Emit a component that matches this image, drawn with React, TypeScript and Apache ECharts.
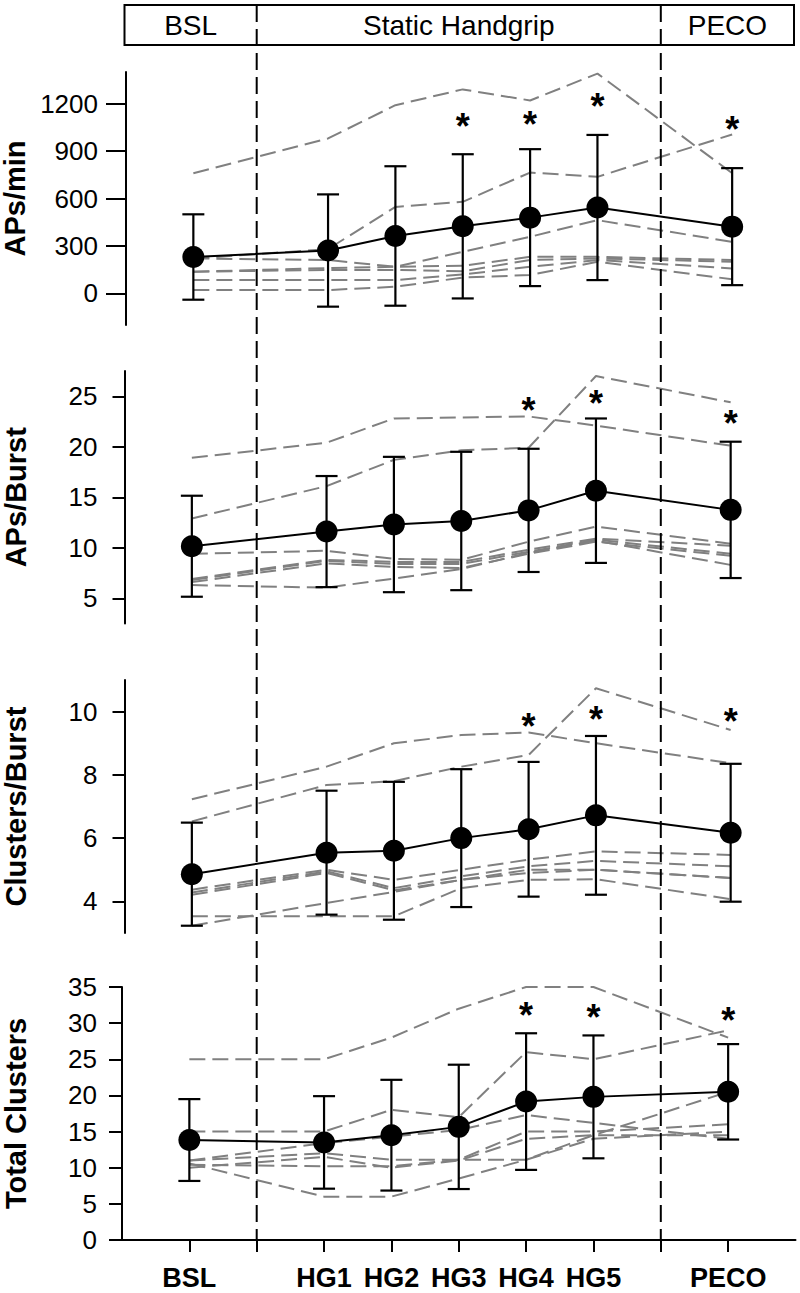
import React, { useEffect, useRef } from 'react';
import * as echarts from 'echarts';

// ---------- data ----------
const timeLabels = ['BSL', 'HG1', 'HG2', 'HG3', 'HG4', 'HG5', 'PECO'];
const timeX = [0, 2, 3, 4, 5, 6, 8];
const xTickValues = [0, 1, 2, 3, 4, 5, 6, 7, 8];
const phaseLabels = ['BSL', 'Static Handgrip', 'PECO'];
const phaseDividers = [1, 7];

// APs/min
const apsMinMean = [230, 271, 363, 424, 479, 543, 422];
const apsMinSD = [270, 355, 441, 456, 433, 459, 370];
const apsMinStars = [null, null, null, 1108, 1120, 1234, 1084];
const apsMinS1 = [760, 980, 1190, 1290, 1220, 1390, 760];
const apsMinS2 = [220, 280, 547, 579, 764, 737, 1005];
const apsMinS3 = [137, 160, 168, 263, 358, 463, 326];
const apsMinS4 = [221, 211, 168, 175, 231, 231, 211];
const apsMinS5 = [137, 148, 148, 140, 211, 221, 200];
const apsMinS6 = [84, 84, 84, 120, 168, 211, 158];
const apsMinS7 = [21, 21, 42, 100, 116, 200, 89];
const apsMinTicks = [0, 300, 600, 900, 1200];

// APs/Burst
const apsBurstMean = [10.15, 11.6, 12.3, 12.65, 13.7, 15.65, 13.75];
const apsBurstSD = [5.0, 5.5, 6.7, 6.85, 6.1, 7.15, 6.75];
const apsBurstStars = [null, null, null, null, 24.4, 25.1, 23.1];
const apsBurstS1 = [18.9, 20.4, 22.8, 22.9, 23.0, 22.1, 20.1];
const apsBurstS2 = [12.9, 16.1, 18.7, 19.65, 19.9, 27.0, 24.4];
const apsBurstS3 = [9.4, 9.7, 8.9, 8.8, 10.6, 12.1, 10.4];
const apsBurstS4 = [6.9, 8.8, 8.6, 8.6, 9.8, 10.9, 10.2];
const apsBurstS5 = [6.8, 8.7, 8.4, 8.4, 9.6, 10.8, 9.4];
const apsBurstS6 = [6.6, 8.45, 8.1, 8.0, 9.4, 10.6, 9.2];
const apsBurstS7 = [6.3, 6.05, 6.95, 7.9, 9.5, 10.7, 8.3];
const apsBurstTicks = [5, 10, 15, 20, 25];

// Clusters/Burst
const clBurstMean = [4.86, 5.54, 5.6, 6.0, 6.28, 6.72, 6.17];
const clBurstSD = [1.63, 1.96, 2.18, 2.18, 2.13, 2.51, 2.18];
const clBurstStars = [null, null, null, null, 9.79, 10.0, 9.95];
const clBurstS1 = [7.23, 8.26, 9.0, 9.26, 9.34, 9.0, 8.37];
const clBurstS2 = [6.53, 7.68, 7.8, 8.26, 8.63, 10.74, 9.42];
const clBurstS3 = [4.37, 5.0, 4.68, 5.0, 5.32, 5.58, 5.47];
const clBurstS4 = [4.28, 4.95, 4.42, 4.79, 5.11, 5.28, 5.11];
const clBurstS5 = [4.21, 4.9, 4.35, 4.68, 5.0, 5.0, 4.74];
const clBurstS6 = [3.53, 3.53, 3.53, 4.42, 4.68, 4.7, 4.07];
const clBurstS7 = [3.23, 3.95, 4.3, 4.68, 4.9, 5.0, 4.74];
const clBurstTicks = [4, 6, 8, 10];

// Total Clusters
const totClMean = [13.83, 13.5, 14.5, 15.65, 19.15, 19.8, 20.5];
const totClSD = [5.66, 6.4, 7.66, 8.6, 9.45, 8.5, 6.6];
const totClStars = [null, null, null, null, 32.1, 31.9, 31.5];
const totClS1 = [25, 25, 28, 32, 35, 35, 28];
const totClS2 = [15, 15, 18, 17, 26, 25, 29];
const totClS3 = [11.0, 13.4, 14.3, 15.2, 17.3, 16.2, 14.0];
const totClS4 = [11.0, 12.0, 11.1, 11.1, 15.0, 15.0, 16.0];
const totClS5 = [10.4, 10.2, 10.2, 11.1, 11.1, 14.5, 20.5];
const totClS6 = [10.6, 6.0, 6.0, 8.5, 11.1, 14.0, 15.0];
const totClS7 = [10.0, 11.5, 10.0, 11.0, 14.0, 14.5, 14.5];
const totClTicks = [0, 5, 10, 15, 20, 25, 30, 35];

// ---------- layout / styles ----------
const FONT = 'Arial, "Liberation Sans", Helvetica, sans-serif';
const panels = [
  { name: 'APs/min', mean: apsMinMean, sd: apsMinSD, stars: apsMinStars,
    subjects: [apsMinS1, apsMinS2, apsMinS3, apsMinS4, apsMinS5, apsMinS6, apsMinS7],
    min: -200, max: 1400, ticks: apsMinTicks,
    left: 126, top: 72, height: 253, tickLen: 20, labelMargin: 28, nameGap: 96 },
  { name: 'APs/Burst', mean: apsBurstMean, sd: apsBurstSD, stars: apsBurstStars,
    subjects: [apsBurstS1, apsBurstS2, apsBurstS3, apsBurstS4, apsBurstS5, apsBurstS6, apsBurstS7],
    min: 2.5, max: 27.5, ticks: apsBurstTicks,
    left: 124.5, top: 371, height: 252.5, tickLen: 12, labelMargin: 27, nameGap: 94.5 },
  { name: 'Clusters/Burst', mean: clBurstMean, sd: clBurstSD, stars: clBurstStars,
    subjects: [clBurstS1, clBurstS2, clBurstS3, clBurstS4, clBurstS5, clBurstS6, clBurstS7],
    min: 3, max: 11, ticks: clBurstTicks,
    left: 124.5, top: 680, height: 253, tickLen: 12, labelMargin: 27, nameGap: 94.5 },
  { name: 'Total Clusters', mean: totClMean, sd: totClSD, stars: totClStars,
    subjects: [totClS1, totClS2, totClS3, totClS4, totClS5, totClS6, totClS7],
    min: 0, max: 35, ticks: totClTicks,
    left: 122, top: 987, height: 253, tickLen: 13, labelMargin: 25, nameGap: 92 },
];
const GRID_WIDTH = 673.5;

function buildOption() {
  const grid: any[] = [];
  const xAxis: any[] = [];
  const yAxis: any[] = [];
  const series: any[] = [];
  panels.forEach((p, gi) => {
    const isBottom = gi === panels.length - 1;
    grid.push({ left: p.left, top: p.top, width: GRID_WIDTH, height: p.height, containLabel: false, outerBoundsMode: 'none' });
    xAxis.push({
      type: 'value', gridIndex: gi, min: -1, max: 9, show: isBottom,
      splitLine: { show: false },
      axisLine: { show: isBottom, onZero: false, lineStyle: { color: '#000', width: 2 } },
      axisTick: { show: isBottom, customValues: xTickValues, length: 12, lineStyle: { color: '#000', width: 2 } },
      axisLabel: {
        show: isBottom, customValues: timeX, margin: 24,
        formatter: (v: number) => { const i = timeX.indexOf(v); return i >= 0 ? timeLabels[i] : ''; },
        color: '#000', fontFamily: FONT, fontWeight: 'bold', fontSize: 27,
      },
    });
    yAxis.push({
      type: 'value', gridIndex: gi, min: p.min, max: p.max,
      name: p.name, nameLocation: 'middle', nameGap: p.nameGap,
      nameTextStyle: { color: '#000', fontFamily: FONT, fontWeight: 'bold', fontSize: 29 },
      splitLine: { show: false },
      axisLine: { show: true, onZero: false, lineStyle: { color: '#000', width: 2 } },
      axisTick: { show: true, customValues: p.ticks, length: p.tickLen, lineStyle: { color: '#000', width: 2 } },
      axisLabel: { customValues: p.ticks, margin: p.labelMargin, color: '#000', fontFamily: FONT, fontSize: 26,
        formatter: (v: number) => String(v) },
    });
    p.subjects.forEach((s) => {
      series.push({
        type: 'line', xAxisIndex: gi, yAxisIndex: gi, silent: true, symbol: 'none',
        data: timeX.map((x, i) => [x, s[i]]),
        lineStyle: { color: '#808080', width: 2, type: [16, 7] },
        z: 2,
      });
    });
    series.push({
      type: 'custom', xAxisIndex: gi, yAxisIndex: gi, silent: true, z: 3,
      data: timeX.map((x, i) => [x, p.mean[i] - p.sd[i], p.mean[i] + p.sd[i]]),
      encode: { x: 0, y: [1, 2] },
      renderItem: (_params: any, api: any) => {
        const x = api.value(0);
        const lo = api.coord([x, api.value(1)]);
        const hi = api.coord([x, api.value(2)]);
        const w = 11;
        const st = { stroke: '#000', lineWidth: 2.2 };
        return {
          type: 'group',
          children: [
            { type: 'line', shape: { x1: lo[0], y1: lo[1], x2: hi[0], y2: hi[1] }, style: st },
            { type: 'line', shape: { x1: lo[0] - w, y1: lo[1], x2: lo[0] + w, y2: lo[1] }, style: st },
            { type: 'line', shape: { x1: hi[0] - w, y1: hi[1], x2: hi[0] + w, y2: hi[1] }, style: st },
          ],
        };
      },
    });
    series.push({
      type: 'line', xAxisIndex: gi, yAxisIndex: gi, silent: true, z: 4,
      data: timeX.map((x, i) => [x, p.mean[i]]),
      symbol: 'circle', symbolSize: 22,
      itemStyle: { color: '#000', borderWidth: 0 },
      lineStyle: { color: '#000', width: 2 },
    });
    const starData: any[] = [];
    p.stars.forEach((v, i) => { if (v != null) starData.push([timeX[i], v]); });
    series.push({
      type: 'custom', xAxisIndex: gi, yAxisIndex: gi, silent: true, z: 5,
      data: starData,
      renderItem: (_params: any, api: any) => {
        const pt = api.coord([api.value(0), api.value(1)]);
        return {
          type: 'text', x: pt[0], y: pt[1] + 8,
          style: { text: '*', fill: '#000', fontFamily: FONT, fontWeight: 'bold', fontSize: 36, align: 'center', verticalAlign: 'middle' },
        };
      },
    });
  });
  return { animation: false, backgroundColor: '#fff', grid, xAxis, yAxis, series };
}

export default function App() {
  const ref = useRef<HTMLDivElement>(null);
  useEffect(() => {
    if (!ref.current) return;
    const chart = echarts.init(ref.current, null, { renderer: 'svg' });
    chart.setOption(buildOption() as any);
    const last = panels.length - 1;
    const bottomY = chart.convertToPixel({ gridIndex: last } as any, [0, 0]) as number[];
    const dividerX = phaseDividers.map((d) => (chart.convertToPixel({ gridIndex: last } as any, [d, 0]) as number[])[0]);
    const boxLeft = 124.5, boxRight = 794, boxTop = 5, boxBottom = 45;
    const bounds = [boxLeft, dividerX[0], dividerX[1], boxRight];
    const graphic: any[] = [
      { type: 'rect', shape: { x: boxLeft, y: boxTop, width: boxRight - boxLeft, height: boxBottom - boxTop },
        style: { fill: 'none', stroke: '#000', lineWidth: 2 }, z: 10 },
    ];
    dividerX.forEach((x) => {
      graphic.push({ type: 'line', shape: { x1: x, y1: boxTop, x2: x, y2: bottomY[1] },
        style: { stroke: '#000', lineWidth: 2, lineDash: [17, 7] }, z: 10 });
    });
    phaseLabels.forEach((t, i) => {
      graphic.push({ type: 'text', x: (bounds[i] + bounds[i + 1]) / 2, y: (boxTop + boxBottom) / 2,
        style: { text: t, fill: '#000', fontFamily: FONT, fontSize: 28, align: 'center', verticalAlign: 'middle' }, z: 10 });
    });
    chart.setOption({ graphic });
    return () => chart.dispose();
  }, []);
  return <div ref={ref} style={{ position: 'absolute', left: 0, top: 0, width: 800, height: 1293 }} />;
}
